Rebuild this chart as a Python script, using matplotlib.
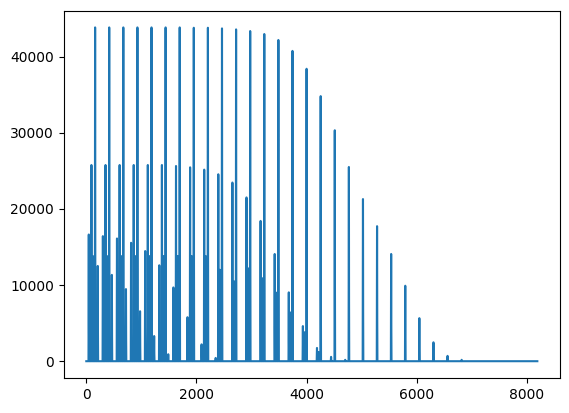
import numpy as np
import matplotlib
matplotlib.use("Agg")
import matplotlib.pyplot as plt

n_samples = 8192
period = 256

tall_offset = 160
tall_heights = [43822]*7 + [43779, 43779, 43692, 43562, 43345, 42954, 42173, 40740,
                            38394, 34800, 30318, 25498, 21285, 17724, 14076, 9907,
                            5651, 2480, 700, 180]

second_offset = 93
second_heights = [25757]*6 + [25627, 25453, 25149, 24541, 23456, 21502, 18418,
                              14075, 9037, 4607, 1740, 570, 180]

third_offset = 45
third_heights = [16632, 16415, 16111, 15546, 14460, 12593, 9684, 5775, 2213, 430]

fourth_offset = 208
fourth_heights = [12506, 11333, 9467, 6557, 3300, 912]

fifth_offset = 120
fifth_heights = [13800]*9 + [12000, 10500, 12200, 10900, 9000, 6400, 3800, 1200]

signal = np.zeros(n_samples)
shape = np.array([0.3, 0.6, 0.85, 1.0, 1.0, 1.0, 0.85, 0.6, 0.3])
half = len(shape) // 2
for offset, heights in [(tall_offset, tall_heights), (second_offset, second_heights),
                        (third_offset, third_heights), (fourth_offset, fourth_heights),
                        (fifth_offset, fifth_heights)]:
    for k, h in enumerate(heights):
        c = offset + period * k
        seg = signal[c - half:c + half + 1]
        signal[c - half:c + half + 1] = np.maximum(seg, h * shape)

fig, ax = plt.subplots(figsize=(5.69, 4.13), dpi=100)
fig.subplots_adjust(left=0.112, right=0.984, top=0.974, bottom=0.085)
ax.plot(np.arange(n_samples), signal)
fig.savefig("out.png")
